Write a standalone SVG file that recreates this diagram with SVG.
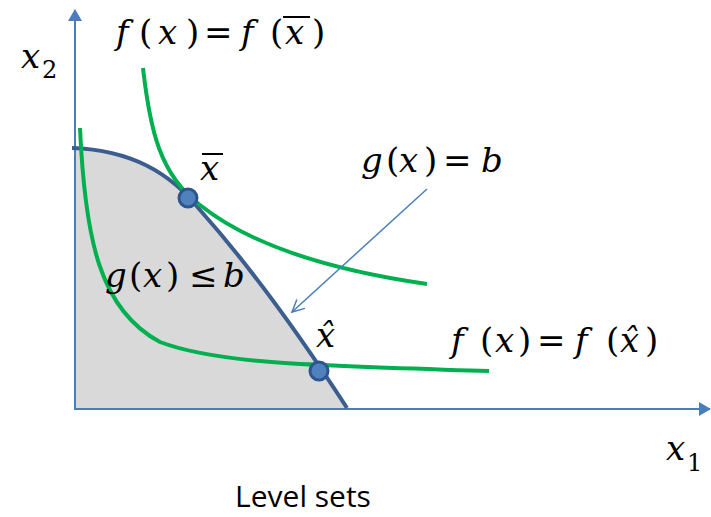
<svg xmlns="http://www.w3.org/2000/svg" width="711" height="517" viewBox="0 0 711 517">
<style>
.axis{stroke:#4a7ebb;stroke-width:2;fill:none}
.green{stroke:#00b050;stroke-width:4;fill:none;stroke-linecap:butt}
.pt{fill:#4f81bd;stroke:#2f5590;stroke-width:3}
.bar{stroke:#000;stroke-width:2}
</style>
<defs>
<marker id="ah" markerWidth="12" markerHeight="14" refX="11" refY="7" orient="auto" markerUnits="userSpaceOnUse" viewBox="0 0 12 14">
<path d="M0,0 L12,7 L0,14 Z" fill="#4a7ebb"/>
</marker>
<marker id="open" markerWidth="16" markerHeight="16" refX="14" refY="8" orient="auto" markerUnits="userSpaceOnUse" viewBox="0 0 16 16">
<path d="M2,2 L14,8 L2,14" fill="none" stroke="#4a7ebb" stroke-width="1.5"/>
</marker>
</defs>
<rect width="711" height="517" fill="#fff"/>
<g id="region">
<path d="M74,148 C130,150 170,172 200,210 C240,255 290,320 347,408 L74,408 Z" fill="#d9d9d9"/>
</g>
<g id="connectors">
<line class="axis" x1="75" y1="410" x2="75" y2="10" marker-end="url(#ah)"/>
<line class="axis" x1="74" y1="409" x2="710" y2="409" marker-end="url(#ah)"/>
<path id="g-curve" d="M72,148 C130,150 170,172 200,210 C240,255 290,320 347,408" fill="none" stroke="#3b5e8f" stroke-width="4"/>
<path id="f-bar" class="green" d="M143,68 C150,130 160,175 200,205 C250,245 330,270 427,284"/>
<path id="f-hat" class="green" d="M80,128 C85,240 100,310 160,342 C220,365 330,366 489,371"/>
<line x1="427" y1="189" x2="292" y2="312" stroke="#4a7ebb" stroke-width="1.5" marker-end="url(#open)"/>
</g>
<g id="points">
<circle class="pt" cx="188" cy="198" r="9"/>
<circle class="pt" cx="319" cy="371" r="9"/>
</g>
<g id="labels" font-family="DejaVu Serif" font-size="34" fill="#000">
<text font-family="DejaVu Serif" style="font-family:'DejaVu Serif'" y="44"><tspan font-style="italic" x="116">f</tspan><tspan x="139">(</tspan><tspan font-style="italic" x="158">x</tspan><tspan x="186">)</tspan><tspan x="204">=</tspan><tspan font-style="italic" x="241">f</tspan><tspan x="270">(</tspan><tspan font-style="italic" x="285">x</tspan><tspan x="312">)</tspan></text>
<line class="bar" x1="283" y1="17" x2="310" y2="17"/>
<text font-family="DejaVu Serif" style="font-family:'DejaVu Serif'" y="68"><tspan font-style="italic" x="21">x</tspan><tspan font-size="24" x="42" y="78">2</tspan></text>
<text font-family="DejaVu Serif" style="font-family:'DejaVu Serif'" font-style="italic" x="200" y="180">x</text>
<line class="bar" x1="202" y1="154" x2="223" y2="154"/>
<text font-family="DejaVu Serif" style="font-family:'DejaVu Serif'" y="172"><tspan font-style="italic" x="361">g</tspan><tspan x="386">(</tspan><tspan font-style="italic" x="399">x</tspan><tspan x="424">)</tspan><tspan x="443">=</tspan><tspan font-style="italic" x="481">b</tspan></text>
<text font-family="DejaVu Serif" style="font-family:'DejaVu Serif'" y="287"><tspan font-style="italic" x="105">g</tspan><tspan x="129">(</tspan><tspan font-style="italic" x="143">x</tspan><tspan x="166">)</tspan><tspan x="189">≤</tspan><tspan font-style="italic" x="223">b</tspan></text>
<text font-family="DejaVu Serif" style="font-family:'DejaVu Serif'" font-style="italic" x="316" y="347">x̂</text>
<text font-family="DejaVu Serif" style="font-family:'DejaVu Serif'" y="352"><tspan font-style="italic" x="451">f</tspan><tspan x="480">(</tspan><tspan font-style="italic" x="495">x</tspan><tspan x="518">)</tspan><tspan x="537">=</tspan><tspan font-style="italic" x="575">f</tspan><tspan x="606">(</tspan><tspan font-style="italic" x="620">x̂</tspan><tspan x="645">)</tspan></text>
<text font-family="DejaVu Serif" style="font-family:'DejaVu Serif'" y="460"><tspan font-style="italic" x="666">x</tspan><tspan font-size="24" x="687" y="471">1</tspan></text>
<text x="303" y="507" text-anchor="middle" font-family="Open Sans" style="font-family:'Open Sans'" font-size="30">Level sets</text>
</g>
</svg>
